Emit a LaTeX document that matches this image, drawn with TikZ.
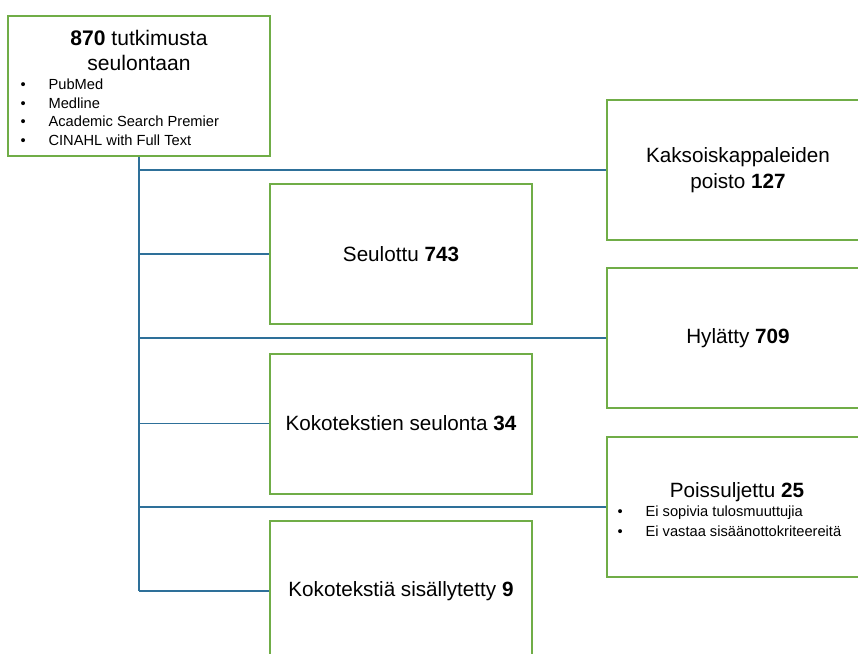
\documentclass[tikz,border=0pt]{standalone}
\usepackage{fontspec}
\setmainfont{Liberation Sans}
\usetikzlibrary{positioning}
\definecolor{boxgreen}{RGB}{112,173,71}
\definecolor{lineblue}{RGB}{46,112,153}
\newcommand{\bul}{\makebox[25pt][l]{\hspace{4pt}\textbullet}}

\begin{document}
\begin{tikzpicture}[x=0.75pt,y=-0.75pt,
  box/.style={draw=boxgreen,line width=1.5pt,minimum width=196.5pt,minimum height=105pt,inner sep=0pt,align=center,font=\fontsize{15.5}{19}\selectfont},
  listtxt/.style={font=\fontsize{11}{13.8}\selectfont,align=left,inner sep=0pt,anchor=north west},
  link/.style={draw=lineblue,line width=1.4pt}]
	\useasboundingbox (0,0) rectangle (858,654);
	\clip (0,0) rectangle (858,654);
	% source box
	\node[box] (src) at (139,85.5) {};
	\node[align=center,inner sep=0pt,font=\fontsize{15.8}{18.75}\selectfont] (srctitle) at (139,50) {\textbf{870} tutkimusta\\seulontaan};
	\node[listtxt] (srclist) at (15,79) {\bul PubMed\\\bul Medline\\\bul Academic Search Premier\\\bul CINAHL with Full Text};
	% middle column
	\node[box] (s743) at (401,254) {Seulottu \textbf{743}};
	\node[box] (f34) at (401,423.5) {Kokotekstien seulonta \textbf{34}};
	\node[box] (k9) at (401,591) {Kokotekstiä sisällytetty \textbf{9}};
	% right column
	\node[box] (d127) at (738,170) {Kaksoiskappaleiden\\poisto \textbf{127}};
	\node[box] (h709) at (738,338) {Hylätty \textbf{709}};
	\node[box] (p25) at (738,507) {};
	\node[align=center,inner sep=0pt,font=\fontsize{15.5}{19}\selectfont] (p25title) at (737,492) {Poissuljettu \textbf{25}};
	\node[listtxt] (p25list) at (612,506) {\bul Ei sopivia tulosmuuttujia\\[0.6pt]\bul Ei vastaa sisäänottokriteereitä};
	% connectors
	\draw[link] (src.south) -- (src.south |- k9.west);
	\foreach \b in {d127,s743,h709,f34,p25,k9}
		\draw[link] (src.south |- \b.west) -- (\b.west);
\end{tikzpicture}
\end{document}
